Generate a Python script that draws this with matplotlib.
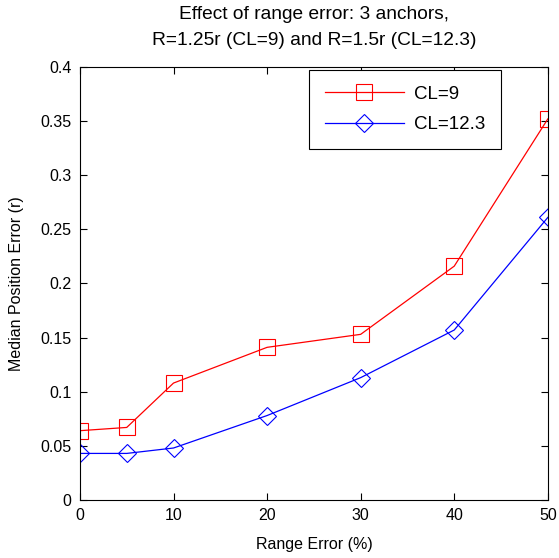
import matplotlib
matplotlib.use("Agg")
import matplotlib.pyplot as plt

range_error = [0, 5, 10, 20, 30, 40, 50]
cl9 = [0.064, 0.067, 0.108, 0.141, 0.153, 0.216, 0.352]
cl12 = [0.043, 0.043, 0.048, 0.078, 0.113, 0.157, 0.261]
xticks = [0, 10, 20, 30, 40, 50]
yticks = [0, 0.05, 0.1, 0.15, 0.2, 0.25, 0.3, 0.35, 0.4]
ytick_labels = ["0", "0.05", "0.1", "0.15", "0.2", "0.25", "0.3", "0.35", "0.4"]

plt.rcParams['font.family'] = ['Liberation Sans', 'DejaVu Sans']
plt.rcParams['font.size'] = 11.5

fig = plt.figure(figsize=(5.59, 5.58), dpi=100)
ax = fig.add_axes([0.143, 0.104, 0.837, 0.776])

ax.plot(range_error, cl9, 'r-', marker='s', ms=11, mfc='none', mew=0.8, lw=0.9, label='CL=9')
ax.plot(range_error, cl12, 'b-', marker='D', ms=9, mfc='none', mew=0.8, lw=0.9, label='CL=12.3')

ax.set_xlim(0, 50)
ax.set_ylim(0, 0.4)
ax.set_xticks(xticks)
ax.set_yticks(yticks)
ax.set_yticklabels(ytick_labels)
ax.tick_params(direction='in', top=True, right=True, length=5, width=0.8, pad=6)
for s in ax.spines.values():
    s.set_linewidth(0.8)

ax.set_xlabel('Range Error (%)', labelpad=10)
ax.set_ylabel('Median Position Error (r)', labelpad=12)
ax.set_title('Effect of range error: 3 anchors,\nR=1.25r (CL=9) and R=1.5r (CL=12.3)',
             pad=16, linespacing=1.7)

leg = ax.legend(loc='upper right', bbox_to_anchor=(0.9, 0.993), fancybox=False,
                edgecolor='black', framealpha=1, handlelength=4.2, borderpad=0.85,
                labelspacing=0.7, handletextpad=0.55, borderaxespad=0, fontsize=13.5)
leg.get_frame().set_linewidth(0.8)

fig.savefig('out.png', dpi=100)
